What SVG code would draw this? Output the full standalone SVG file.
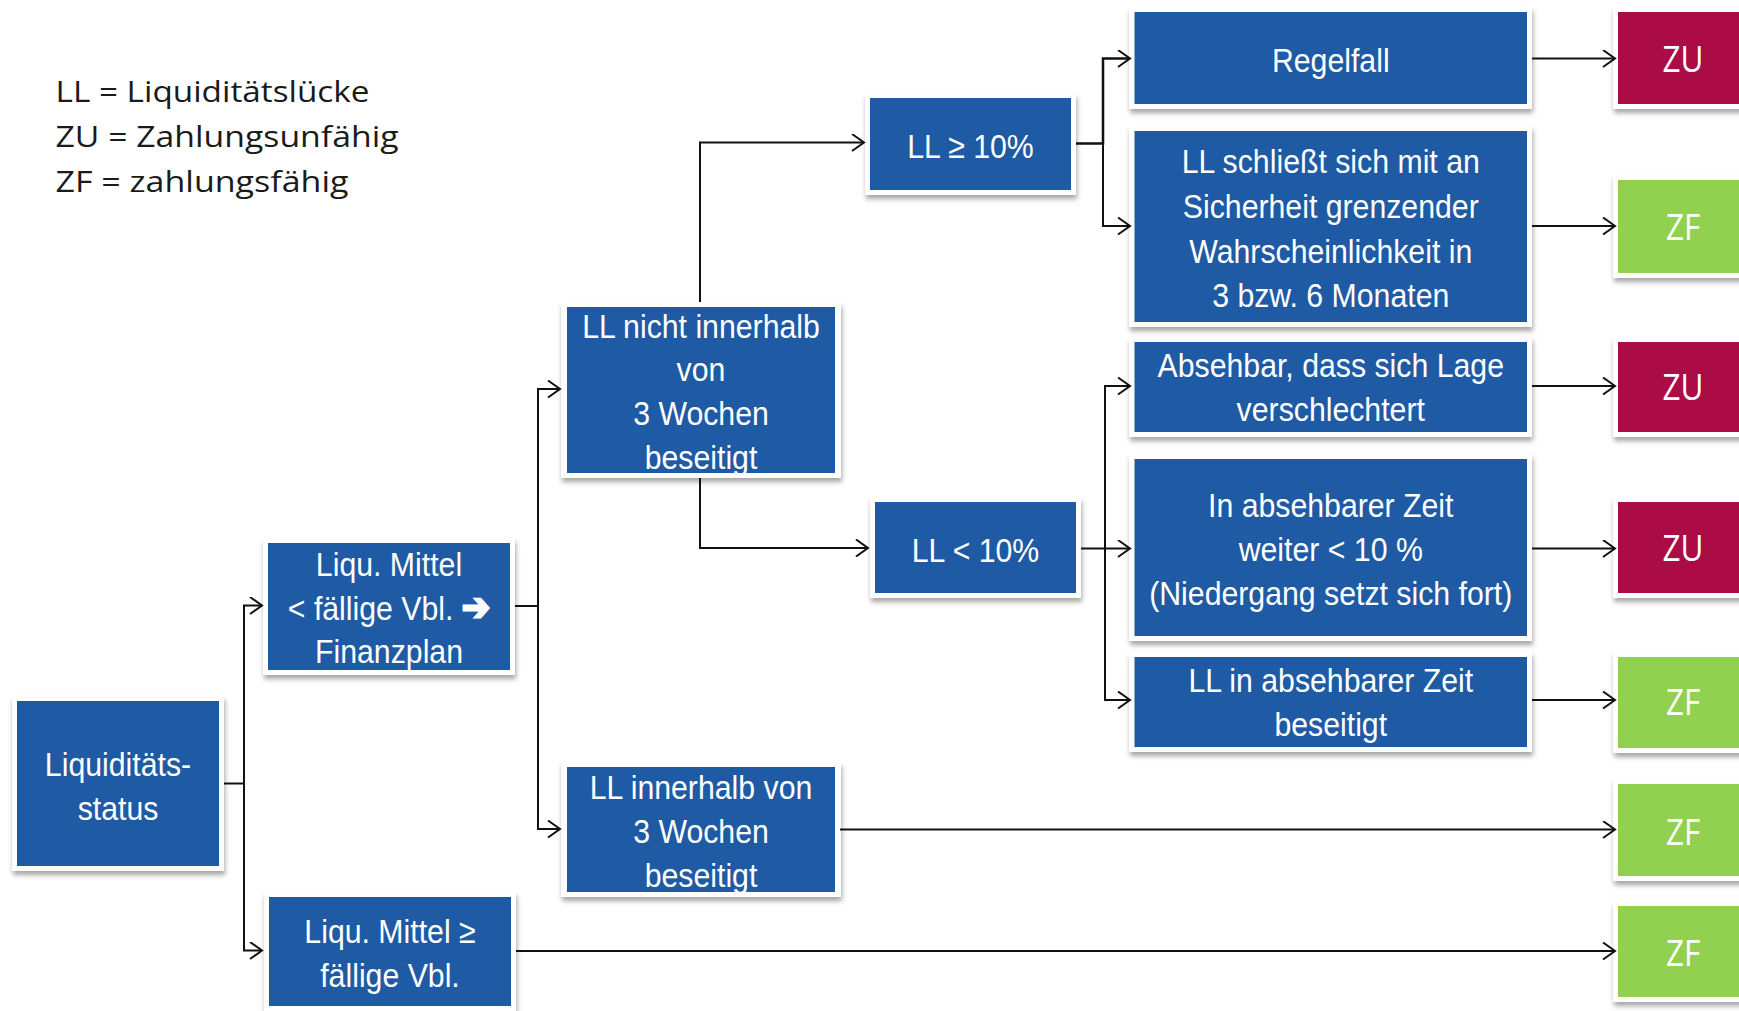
<svg xmlns="http://www.w3.org/2000/svg" width="1739" height="1011" viewBox="0 0 1739 1011">
<style>
.bg{fill:#ffffff}
.frame{fill:#ffffff;filter:url(#sh)}
.blue{fill:#1f5aa4}
.red{fill:#ab0c45}
.green{fill:#92d050}
.t{font-family:"Liberation Sans",Arial,sans-serif;font-size:34px;fill:#ffffff;text-anchor:middle}
.o{font-family:"Open Sans","Noto Sans",sans-serif;font-size:37px;fill:#ffffff;text-anchor:middle}
.leg{font-family:"Open Sans","Noto Sans",sans-serif;font-size:30px;fill:#1a1a1a}
.c{fill:none;stroke:#111111;stroke-width:2}
.arr{font-family:"DejaVu Sans",sans-serif;font-weight:bold;font-size:38px;stroke:#ffffff;stroke-width:2.5}
</style>
<defs>
<filter id="sh" x="-10%" y="-10%" width="125%" height="130%">
<feDropShadow dx="1" dy="4" stdDeviation="2.5" flood-color="#000000" flood-opacity="0.35"/>
</filter>
<marker id="ah" viewBox="0 0 16 18" markerWidth="16" markerHeight="18" refX="13" refY="9" orient="auto" markerUnits="userSpaceOnUse">
<path d="M1,0.5 L13,9 L1,17.5" fill="none" stroke="#111111" stroke-width="2"/>
</marker>
<clipPath id="cpNicht"><rect x="567" y="307" width="268" height="166"/></clipPath>
<clipPath id="cpInner"><rect x="567" y="767" width="268" height="125"/></clipPath>
</defs>
<rect class="bg" x="0" y="0" width="1739" height="1011"/>

<g id="legend">
<text class="leg" x="55.5" y="101.7" textLength="314" lengthAdjust="spacingAndGlyphs">LL = Liquiditätslücke</text>
<text class="leg" x="55.5" y="146.7" textLength="343" lengthAdjust="spacingAndGlyphs">ZU = Zahlungsunfähig</text>
<text class="leg" x="55.5" y="191.7" textLength="293" lengthAdjust="spacingAndGlyphs">ZF = zahlungsfähig</text>
</g>

<g id="node-status">
<rect class="frame" x="12" y="696" width="212" height="175"/>
<rect class="blue" x="17" y="701" width="202" height="165"/>
<text class="t" transform="translate(118 0) scale(0.89 1)"><tspan x="0" y="776">Liquiditäts-</tspan><tspan x="0" y="820">status</tspan></text>
</g>

<g id="node-lt">
<rect class="frame" x="263" y="538" width="252" height="137"/>
<rect class="blue" x="268" y="543" width="242" height="127"/>
<text class="t" transform="translate(389 0) scale(0.89 1)"><tspan x="0" y="576">Liqu. Mittel</tspan><tspan x="0" y="620">&lt; fällige Vbl. <tspan class="arr">➔</tspan></tspan><tspan x="0" y="663">Finanzplan</tspan></text>
</g>

<g id="node-ge">
<rect class="frame" x="264" y="892" width="252" height="119"/>
<rect class="blue" x="269" y="897" width="242" height="109"/>
<text class="t" transform="translate(390 0) scale(0.89 1)"><tspan x="0" y="943">Liqu. Mittel ≥</tspan><tspan x="0" y="987">fällige Vbl.</tspan></text>
</g>

<g id="node-nicht">
<rect class="frame" x="561" y="302" width="280" height="176"/>
<rect class="blue" x="567" y="307" width="268" height="166"/>
<g clip-path="url(#cpNicht)">
<text class="t" transform="translate(701 0) scale(0.89 1)"><tspan x="0" y="338">LL nicht innerhalb</tspan><tspan x="0" y="381">von</tspan><tspan x="0" y="425">3 Wochen</tspan><tspan x="0" y="469">beseitigt</tspan></text>
</g>
</g>

<g id="node-inner">
<rect class="frame" x="561" y="762" width="280" height="135"/>
<rect class="blue" x="567" y="767" width="268" height="125"/>
<g clip-path="url(#cpInner)">
<text class="t" transform="translate(701 0) scale(0.89 1)"><tspan x="0" y="799">LL innerhalb von</tspan><tspan x="0" y="843">3 Wochen</tspan><tspan x="0" y="887">beseitigt</tspan></text>
</g>
</g>

<g id="node-ge10">
<rect class="frame" x="865" y="93" width="211" height="102"/>
<rect class="blue" x="870" y="98" width="201" height="92"/>
<text class="t" transform="translate(970.5 0) scale(0.89 1)"><tspan x="0" y="158">LL ≥ 10%</tspan></text>
</g>

<g id="node-lt10">
<rect class="frame" x="870" y="497" width="211" height="101"/>
<rect class="blue" x="875" y="502" width="201" height="91"/>
<text class="t" transform="translate(975.5 0) scale(0.89 1)"><tspan x="0" y="562">LL &lt; 10%</tspan></text>
</g>

<g id="node-regel">
<rect class="frame" x="1129" y="7" width="403" height="102"/>
<rect class="blue" x="1134.5" y="12" width="392.5" height="92"/>
<text class="t" transform="translate(1330.75 0) scale(0.89 1)"><tspan x="0" y="72.5">Regelfall</tspan></text>
</g>

<g id="node-schliesst">
<rect class="frame" x="1129" y="126" width="403" height="201"/>
<rect class="blue" x="1134.5" y="131" width="392.5" height="191"/>
<text class="t" transform="translate(1330.75 0) scale(0.89 1)"><tspan x="0" y="173">LL schließt sich mit an</tspan><tspan x="0" y="218">Sicherheit grenzender</tspan><tspan x="0" y="263">Wahrscheinlichkeit in</tspan><tspan x="0" y="307">3 bzw. 6 Monaten</tspan></text>
</g>

<g id="node-absehbar">
<rect class="frame" x="1129" y="337" width="403" height="100"/>
<rect class="blue" x="1134.5" y="342" width="392.5" height="90"/>
<text class="t" transform="translate(1330.75 0) scale(0.89 1)"><tspan x="0" y="377">Absehbar, dass sich Lage</tspan><tspan x="0" y="421">verschlechtert</tspan></text>
</g>

<g id="node-inabsehbar">
<rect class="frame" x="1129" y="454" width="403" height="187"/>
<rect class="blue" x="1134.5" y="459" width="392.5" height="177"/>
<text class="t" transform="translate(1330.75 0) scale(0.89 1)"><tspan x="0" y="517">In absehbarer Zeit</tspan><tspan x="0" y="561">weiter &lt; 10 %</tspan><tspan x="0" y="605">(Niedergang setzt sich fort)</tspan></text>
</g>

<g id="node-llabs">
<rect class="frame" x="1129" y="652" width="403" height="100"/>
<rect class="blue" x="1134.5" y="657" width="392.5" height="90"/>
<text class="t" transform="translate(1330.75 0) scale(0.89 1)"><tspan x="0" y="692">LL in absehbarer Zeit</tspan><tspan x="0" y="736">beseitigt</tspan></text>
</g>

<g id="out-zu1">
<rect class="frame" x="1613" y="7" width="140" height="102"/>
<rect class="red" x="1618" y="12" width="130" height="92"/>
<text class="o" transform="translate(1683 0) scale(0.85 1)"><tspan x="0" y="72.5">ZU</tspan></text>
</g>
<g id="out-zf1">
<rect class="frame" x="1613" y="175" width="140" height="103"/>
<rect class="green" x="1618" y="180" width="130" height="93"/>
<text class="o" transform="translate(1683 0) scale(0.85 1)"><tspan x="0" y="240">ZF</tspan></text>
</g>
<g id="out-zu2">
<rect class="frame" x="1613" y="337" width="140" height="100"/>
<rect class="red" x="1618" y="342" width="130" height="90"/>
<text class="o" transform="translate(1683 0) scale(0.85 1)"><tspan x="0" y="400">ZU</tspan></text>
</g>
<g id="out-zu3">
<rect class="frame" x="1613" y="497" width="140" height="101"/>
<rect class="red" x="1618" y="502" width="130" height="91"/>
<text class="o" transform="translate(1683 0) scale(0.85 1)"><tspan x="0" y="561">ZU</tspan></text>
</g>
<g id="out-zf2">
<rect class="frame" x="1613" y="652" width="140" height="101"/>
<rect class="green" x="1618" y="657" width="130" height="91"/>
<text class="o" transform="translate(1683 0) scale(0.85 1)"><tspan x="0" y="715">ZF</tspan></text>
</g>
<g id="out-zf3">
<rect class="frame" x="1613" y="779" width="140" height="102"/>
<rect class="green" x="1618" y="784" width="130" height="92"/>
<text class="o" transform="translate(1683 0) scale(0.85 1)"><tspan x="0" y="845">ZF</tspan></text>
</g>
<g id="out-zf4">
<rect class="frame" x="1613" y="901" width="140" height="101"/>
<rect class="green" x="1618" y="906" width="130" height="91"/>
<text class="o" transform="translate(1683 0) scale(0.85 1)"><tspan x="0" y="966">ZF</tspan></text>
</g>

<g id="connectors">
<path class="c" d="M224,783.5 H244 V605.5 H262" marker-end="url(#ah)"/>
<path class="c" d="M244,783.5 V950.5 H262" marker-end="url(#ah)"/>
<path class="c" d="M515,606 H538 V389 H560" marker-end="url(#ah)"/>
<path class="c" d="M538,606 V829 H560" marker-end="url(#ah)"/>
<path class="c" d="M700,302 V142.5 H864" marker-end="url(#ah)"/>
<path class="c" d="M700,478 V548 H868" marker-end="url(#ah)"/>
<path class="c" d="M1076,143.5 H1103 V58.5 H1130" marker-end="url(#ah)" style="stroke-width:2.5"/>
<path class="c" d="M1103,143.5 V226 H1130" marker-end="url(#ah)"/>
<path class="c" d="M1081,548.5 H1105 V386 H1130" marker-end="url(#ah)"/>
<path class="c" d="M1105,548.5 H1130" marker-end="url(#ah)"/>
<path class="c" d="M1105,548.5 V700 H1130" marker-end="url(#ah)"/>
<path class="c" d="M1532,58.5 H1615" marker-end="url(#ah)"/>
<path class="c" d="M1532,226 H1615" marker-end="url(#ah)"/>
<path class="c" d="M1532,386 H1615" marker-end="url(#ah)"/>
<path class="c" d="M1532,548.5 H1615" marker-end="url(#ah)"/>
<path class="c" d="M1532,700 H1615" marker-end="url(#ah)"/>
<path class="c" d="M840,829.5 H1615" marker-end="url(#ah)"/>
<path class="c" d="M516,951 H1615" marker-end="url(#ah)"/>
</g>
</svg>
